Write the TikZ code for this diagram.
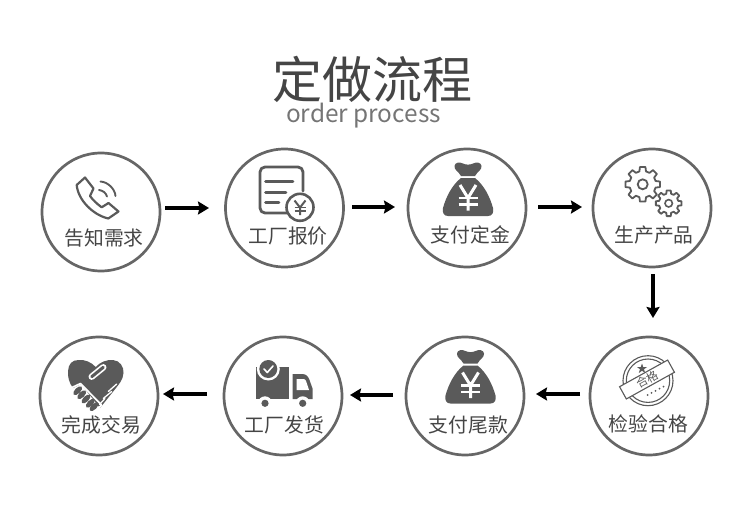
\documentclass[tikz,border=0pt]{standalone}
\usepackage{fontspec}
\setmainfont{Noto Sans CJK SC}
\usetikzlibrary{arrows.meta}
\definecolor{ring}{HTML}{666666}
\definecolor{icon}{HTML}{5A5A5A}
\definecolor{ink}{HTML}{454545}
\definecolor{sub}{HTML}{757575}
\tikzset{
  stepring/.style={circle,draw=ring,line width=2.7pt,minimum size=118pt,inner sep=0pt,outer sep=0pt},
  steptext/.style={text=ink,inner sep=0pt,font=\fontsize{19.8}{20}\selectfont},
  flow/.style={line width=4.5pt,black,-{Stealth[length=11pt,width=13pt,inset=1.5pt]}},
  iconline/.style={draw=icon,line cap=round,line join=round},
}
\newcommand{\moneybag}[2]{%
  \begin{scope}[shift={(#1,#2)}]
    \fill[icon] (454.5,166) .. controls (455,162) and (460,162) .. (463,163.5) .. controls (466,165) and (470,165) .. (473,163.5)
      .. controls (476,162) and (481,162) .. (481.5,166) .. controls (482,170) and (477,172) .. (475,176)
      -- (461,176) .. controls (459,172) and (454,170) .. (454.5,166) -- cycle;
    \fill[icon] (461,178) -- (475,178) .. controls (484,185) and (490,197) .. (493,208)
      .. controls (494,213) and (492,216) .. (488,216) -- (448,216) .. controls (444,216) and (442,213) .. (443,208)
      .. controls (446,197) and (452,185) .. (461,178) -- cycle;
    \draw[white,line width=3pt] (460,185) -- (468,198) -- (476,185) (468,198) -- (468,210.5);
    \draw[white,line width=2.6pt] (458.5,198) -- (477.5,198) (458.5,204.5) -- (477.5,204.5);
  \end{scope}}
\newcommand{\gearshape}[5]{% cx cy outer inner teeth
  \pgfmathsetmacro{\stepang}{360/#5}
  \draw[iconline,line width=1.8pt] ({#1+#4*cos(-0.32*\stepang)},{#2+#4*sin(-0.32*\stepang)})
    \foreach \k in {1,...,#5}{
      -- ({#1+#3*cos((\k-1)*\stepang-0.2*\stepang)},{#2+#3*sin((\k-1)*\stepang-0.2*\stepang)})
      -- ({#1+#3*cos((\k-1)*\stepang+0.2*\stepang)},{#2+#3*sin((\k-1)*\stepang+0.2*\stepang)})
      -- ({#1+#4*cos((\k-1)*\stepang+0.32*\stepang)},{#2+#4*sin((\k-1)*\stepang+0.32*\stepang)})
      -- ({#1+#4*cos(\k*\stepang-0.32*\stepang)},{#2+#4*sin(\k*\stepang-0.32*\stepang)})
    } -- cycle;}
\begin{document}
\begin{tikzpicture}[x=1pt,y=-1pt]
\useasboundingbox (0,0) rectangle (750,527);
\node[text=ink,inner sep=0pt,font=\fontsize{50}{51}\selectfont] (title) at (372.5,79) {定做流程};
\node[text=sub,inner sep=0pt,font=\fontsize{24.4}{25}\selectfont] (subtitle) at (363.5,115.5) {order process};

\node[stepring] (c1) at (101,212) {};
\node[stepring] (c2) at (284.5,208) {};
\node[stepring] (c3) at (467,208) {};
\node[stepring] (c4) at (652,208) {};
\node[stepring] (c5) at (649,396) {};
\node[stepring] (c6) at (465,396) {};
\node[stepring] (c7) at (283,396) {};
\node[stepring] (c8) at (99,396) {};

\node[steptext] (t1) at (104,238) {告知需求};
\node[steptext] (t2) at (288,236) {工厂报价};
\node[steptext] (t3) at (470.5,235) {支付定金};
\node[steptext] (t4) at (654,235) {生产产品};
\node[steptext] (t5) at (648.5,424) {检验合格};
\node[steptext] (t6) at (468.5,425) {支付尾款};
\node[steptext] (t7) at (284.5,425) {工厂发货};
\node[steptext] (t8) at (101.5,425) {完成交易};

\draw[flow] ([xshift=5pt,yshift=4pt]c1.east) -- ([xshift=-16.5pt]c2.west);
\draw[flow] ([xshift=8.5pt,yshift=1pt]c2.east) -- ([xshift=-13pt,yshift=1pt]c3.west);
\draw[flow] ([xshift=12pt,yshift=1pt]c3.east) -- ([xshift=-11pt,yshift=1pt]c4.west);
\draw[flow] ([xshift=1pt,yshift=-7pt]c4.south) -- ([xshift=4pt,yshift=19pt]c5.north);
\draw[flow] ([xshift=-10pt,yshift=2pt]c5.west) -- ([xshift=12pt,yshift=2pt]c6.east);
\draw[flow] ([xshift=-13pt,yshift=1pt]c6.west) -- ([xshift=8pt,yshift=1pt]c7.east);
\draw[flow] ([xshift=-17pt,yshift=2pt]c7.west) -- ([xshift=5pt,yshift=2pt]c8.east);

% phone
\draw[iconline,line width=2.2pt] (85,177.5) -- (76.7,185) .. controls (78,200) and (93,215) .. (108.3,218.5)
  -- (118.5,211.5) -- (108.5,203) -- (101.7,207.3) .. controls (97,204) and (93,200) .. (90,196) -- (93.5,188.5) -- cycle;
\draw[iconline,line width=1.9pt] (100.5,181.5) .. controls (108,182) and (115,189) .. (115.5,196);
\draw[iconline,line width=1.9pt] (99,190) .. controls (103,190.5) and (106,193) .. (107,196.5);

% quotation sheet
\draw[iconline,line width=2.8pt,rounded corners=5pt] (287,213) -- (260,213) -- (260,167) -- (303,167) -- (303,191);
\draw[iconline,line width=2.8pt] (265.5,181.7) -- (293,181.7) (265.5,192.3) -- (286,192.3) (265.5,202.7) -- (279,202.7);
\draw[icon,fill=white,line width=2.6pt] (300,207.3) circle[radius=13.5];
\draw[icon,line width=2pt] (294.5,200.5) -- (300,207.5) -- (305.5,200.5) (300,207.5) -- (300,215);
\draw[icon,line width=1.7pt] (294.5,207.5) -- (305.5,207.5) (294.5,211) -- (305.5,211);

% money bags
\moneybag{0}{0}
\moneybag{2.5}{187.5}

% gears
\gearshape{642.7}{184.3}{17.5}{13.3}{8}
\draw[icon,line width=1.8pt] (642.7,184.3) circle[radius=5];
\gearshape{668.7}{203.3}{13}{9.8}{8}
\draw[icon,line width=1.6pt] (668.7,203.3) circle[radius=3.7];

% stamp
\draw[icon,line width=1.1pt] (648,380.7) circle[radius=25];
\draw[icon,line width=1.1pt] (648,380.7) circle[radius=21.7];
\fill[icon] (642,363.5) -- (643.2,367) -- (647,367) -- (644,369.3) -- (645.2,373) -- (642,370.8) -- (638.8,373) -- (640,369.3) -- (637,367) -- (640.8,367) -- cycle;
\foreach \k in {0,...,4}{\fill[icon] ({647.5+\k*4},{395-\k*2.1}) circle[radius=1];}
\node[draw=icon,fill=white,line width=1.1pt,rotate=29,minimum width=55pt,minimum height=14pt,inner sep=0pt,text=icon,font=\fontsize{11.5}{12}\selectfont] (stamp) at (647,379.5) {合格};

% truck
\fill[icon] (256,366.7) rectangle (289.3,398.5);
\fill[white] (268.3,369) circle[radius=11.5];
\fill[icon] (268.3,369) circle[radius=9];
\draw[white,line width=1.6pt,line cap=round,line join=round] (264,369) -- (267.3,372.5) -- (273,366);
\fill[icon] (292.7,374) -- (302,374) .. controls (306,374) and (308,376) .. (309.5,380) -- (312.7,389) -- (312.7,399) -- (292.7,399) -- cycle;
\fill[white] (296.7,379) -- (303.5,379) .. controls (305,379) and (305.5,380) .. (306,381) -- (309,390) -- (296.7,390) -- cycle;
\fill[white] (265,403.3) circle[radius=7] (302.7,403.3) circle[radius=7];
\fill[icon] (265,403.3) circle[radius=3.6] (302.7,403.3) circle[radius=3.6];

% handshake heart
\fill[icon] (95.7,367) .. controls (100,362) and (107,359.5) .. (113,360) .. controls (120,360.5) and (124,367) .. (123.5,373)
  .. controls (123,380) and (119,384) .. (116,388) -- (100,408) -- (81,384) -- (73,388)
  .. controls (69,383) and (67.5,376) .. (68,371) .. controls (68.5,364) and (72,360) .. (78.5,360)
  .. controls (85,359.5) and (91,362) .. (95.7,367) -- cycle;
\draw[white,line width=1.7pt,line cap=round,line join=round] (72,387.5) -- (80.5,383.5) -- (101.5,405) -- (97,410);
\foreach \px/\py in {77.7/390.7,81.7/394.7,86/399,90.3/403.3,94/406.7}{
  \fill[icon,rotate around={45:(\px,\py)}] (\px,\py) ellipse[x radius=5.6,y radius=2.8];}
\draw[white,line width=6.4pt,line cap=round] (91.7,376.7) -- (103.3,367.3);
\draw[icon,line width=3pt,line cap=round] (91.7,376.7) -- (103.3,367.3);
\draw[white,line width=1.3pt,line cap=round] (116.7,384) -- (108.3,391.5) (111.7,391.5) -- (103.3,398.5) (105,398.5) -- (99.5,404.5);
\end{tikzpicture}
\end{document}
